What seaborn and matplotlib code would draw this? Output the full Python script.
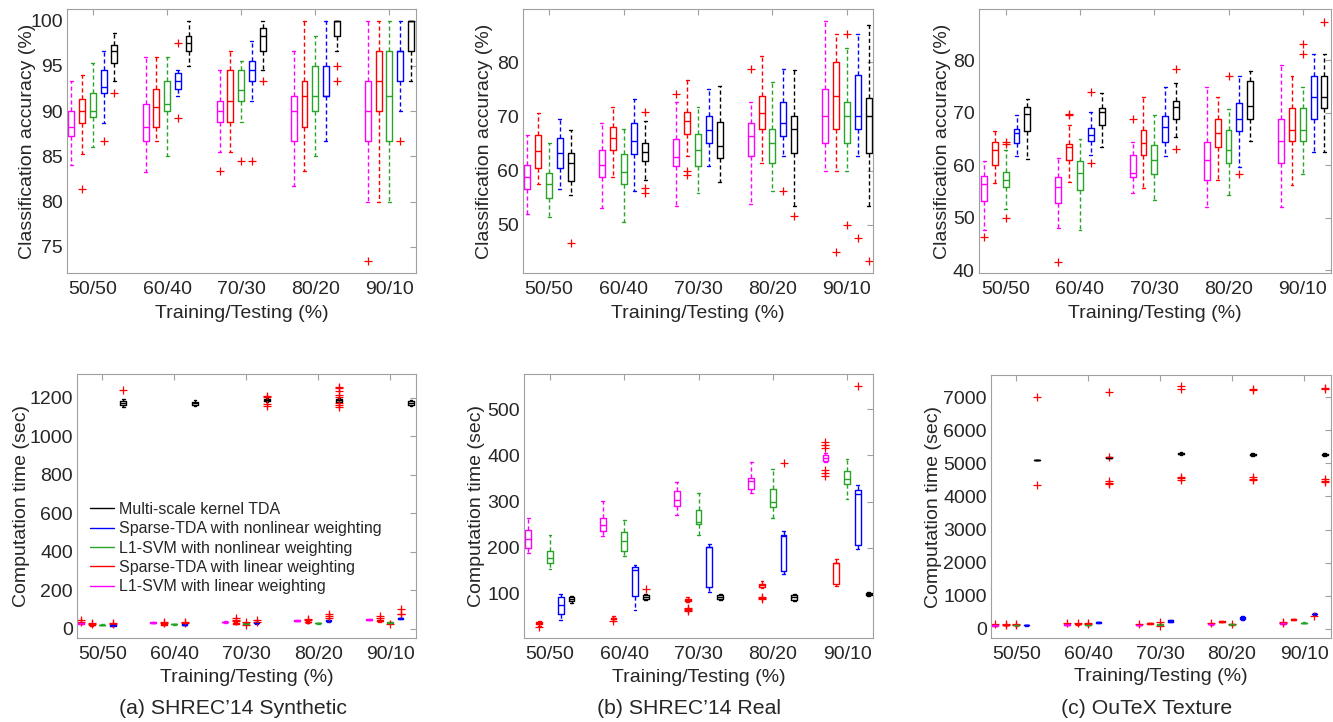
import matplotlib
matplotlib.use("Agg")
import matplotlib.pyplot as plt
import seaborn as sns
from matplotlib.lines import Line2D

sns.set_theme(style="white")
plt.rcParams['font.family'] = ['Liberation Sans', 'DejaVu Sans']

SPLITS = ["50/50", "60/40", "70/30", "80/20", "90/10"]
METHODS = ["L1-SVM with linear weighting", "Sparse-TDA with linear weighting",
           "L1-SVM with nonlinear weighting", "Sparse-TDA with nonlinear weighting",
           "Multi-scale kernel TDA"]
COLORS = ["#ff00ff", "#ff0000", "#28a428", "#0000ff", "#000000"]

# rows = splits, columns = methods (same order as METHODS)
# ---- (a) SHREC'14 Synthetic, accuracy
SYN_ACC_LO = [[84.0, 85.3, 86.0, 88.7, 93.3], [83.3, 86.7, 85.0, 91.65, 95.0], [85.5, 85.5, 88.85, 91.1, 94.6],
              [81.7, 83.35, 85.0, 86.7, 96.6], [80.0, 80.0, 80.0, 90.0, 93.3]]
SYN_ACC_Q1 = [[87.3, 88.7, 89.3, 92.0, 95.3], [86.7, 88.3, 90.0, 92.5, 96.6], [88.85, 88.85, 91.1, 93.3, 96.6],
              [86.7, 88.3, 90.0, 91.65, 98.3], [86.7, 90.0, 86.7, 93.3, 96.6]]
SYN_ACC_MED = [[88.3, 90.0, 90.0, 92.65, 96.6], [88.3, 90.5, 90.8, 93.3, 97.5], [90.0, 91.1, 92.3, 94.5, 98.3],
               [90.0, 91.65, 91.65, 91.65, 100.0], [90.0, 93.3, 91.65, 96.6, 100.0]]
SYN_ACC_Q3 = [[90.0, 91.3, 92.0, 94.6, 97.3], [90.8, 92.5, 93.3, 94.2, 98.3], [91.1, 94.5, 94.5, 95.5, 99.15],
              [91.65, 93.3, 95.0, 95.0, 100.0], [93.3, 96.6, 96.6, 96.6, 100.0]]
SYN_ACC_HI = [[93.3, 94.0, 95.3, 96.6, 98.6], [96.0, 96.0, 96.0, 94.6, 100.0], [94.5, 96.6, 95.5, 97.8, 100.0],
              [96.6, 100.0, 98.3, 100.0, 100.0], [100.0, 100.0, 100.0, 100.0, 100.0]]
SYN_ACC_OUT = [[[], [81.35], [], [86.7], [92.0]], [[], [], [], [97.5, 89.2], []],
               [[83.35], [], [84.5], [84.5], [93.3]], [[], [], [], [], [95.0, 93.3]],
               [[73.4], [], [], [86.7], []]]

# ---- (b) SHREC'14 Real, accuracy
REAL_ACC_LO = [[52.0, 57.6, 51.5, 56.6, 55.4], [53.1, 58.8, 50.6, 56.2, 58.3], [53.4, 62.6, 55.8, 60.9, 57.8],
               [53.9, 61.3, 56.3, 62.6, 53.4], [60.0, 60.0, 60.0, 62.6, 53.4]]
REAL_ACC_Q1 = [[56.6, 60.5, 55.0, 60.5, 58.1], [58.8, 63.7, 57.6, 63.1, 61.7], [60.9, 66.7, 60.9, 65.1, 62.3],
               [62.6, 67.6, 61.3, 66.3, 63.3], [65.1, 67.6, 65.1, 67.6, 63.3]]
REAL_ACC_MED = [[58.9, 63.6, 57.6, 63.3, 61.4], [61.0, 66.0, 59.7, 65.4, 63.4], [62.5, 69.2, 63.8, 67.5, 64.6],
                [66.3, 70.7, 65.1, 68.8, 67.6], [70.0, 73.8, 70.0, 70.0, 70.0]]
REAL_ACC_Q3 = [[61.0, 66.5, 59.5, 66.0, 63.3], [63.7, 68.1, 63.0, 68.8, 65.1], [65.8, 70.8, 66.7, 70.0, 68.9],
               [68.8, 73.8, 67.6, 72.6, 70.0], [75.0, 80.1, 72.6, 77.6, 73.3]]
REAL_ACC_HI = [[66.6, 70.6, 65.1, 69.6, 67.4], [68.8, 71.8, 67.6, 73.2, 69.2], [72.6, 76.7, 71.7, 75.0, 75.6],
               [72.6, 81.2, 76.4, 78.8, 78.5], [87.6, 85.1, 82.6, 85.1, 86.8]]
REAL_ACC_OUT = [[[], [], [], [], [46.6]], [[], [], [], [], [70.8, 56.8, 55.8]],
                [[74.2], [60.0, 59.2], [], [], []], [[78.8], [], [], [56.2], [51.7]],
                [[], [45.0], [85.1, 50.0], [47.5], [43.3]]]

# ---- (c) OuTeX Texture, accuracy
TEX_ACC_LO = [[47.7, 56.7, 51.6, 61.8, 61.3], [48.0, 56.9, 47.6, 62.0, 63.6], [54.8, 55.6, 53.5, 61.8, 65.5],
              [52.1, 57.3, 54.3, 59.7, 64.6], [52.1, 56.3, 58.3, 62.5, 62.5]]
TEX_ACC_Q1 = [[53.3, 60.0, 55.8, 64.2, 66.6], [52.8, 61.0, 55.3, 64.6, 67.7], [57.7, 61.9, 58.3, 64.5, 68.8],
              [57.3, 63.6, 60.4, 66.6, 68.8], [60.4, 64.6, 64.6, 68.8, 70.9]]
TEX_ACC_MED = [[56.4, 62.9, 57.2, 66.2, 69.8], [55.9, 63.6, 58.6, 65.8, 70.2], [58.6, 64.2, 61.1, 67.4, 71.2],
               [61.0, 66.2, 63.0, 68.8, 71.4], [64.6, 66.7, 66.7, 73.0, 73.0]]
TEX_ACC_Q3 = [[58.0, 64.5, 58.8, 67.0, 71.2], [57.8, 64.1, 60.9, 67.2, 70.9], [61.9, 66.7, 63.9, 69.4, 72.2],
              [64.5, 68.8, 66.7, 71.8, 76.0], [68.8, 70.9, 70.9, 77.0, 77.0]]
TEX_ACC_HI = [[60.8, 66.6, 62.9, 69.6, 72.6], [61.5, 67.7, 65.1, 70.2, 73.8], [64.5, 73.0, 69.6, 75.0, 75.7],
              [75.0, 73.0, 70.8, 77.0, 78.0], [79.2, 77.0, 75.0, 81.2, 81.2]]
TEX_ACC_OUT = [[[46.3], [], [64.5, 64.1, 50.0], [], []], [[41.65], [69.8, 69.6], [], [73.9, 60.4], []],
               [[68.8], [], [], [], [78.4, 63.2]], [[], [], [77.0], [58.3], []],
               [[], [], [83.2, 81.2], [], [87.4]]]

# ---- (a) SHREC'14 Synthetic, time (sec)
SYN_TIME_LO = [[26, 17, 20, 14, 1150], [30, 20, 23, 18, 1155], [33, 25, 24, 27, 1178],
               [39, 32, 28, 38, 1176], [44, 38, 30, 50, 1155]]
SYN_TIME_Q1 = [[28, 20, 21, 17, 1160], [32, 23, 24, 21, 1162], [34, 27, 26, 29, 1182],
               [41, 34, 29, 40, 1180], [46, 40, 31, 52, 1162]]
SYN_TIME_MED = [[30, 22, 22, 20, 1170], [33, 25, 25, 23, 1170], [36, 30, 28, 32, 1187],
                [43, 36, 30, 42, 1186], [48, 42, 33, 55, 1172]]
SYN_TIME_Q3 = [[32, 24, 23, 22, 1184], [35, 28, 26, 25, 1180], [38, 32, 29, 34, 1191],
               [45, 38, 31, 44, 1192], [50, 44, 34, 57, 1182]]
SYN_TIME_HI = [[34, 27, 24, 25, 1195], [36, 32, 27, 28, 1188], [40, 35, 31, 36, 1196],
               [47, 40, 32, 46, 1198], [52, 46, 36, 59, 1190]]
SYN_TIME_OUT = [[[38, 46], [26, 30], [], [27, 30], [1238]], [[], [32, 38], [], [33, 38], []],
                [[], [40, 48, 55], [20, 36], [38, 45], [1155, 1165, 1205, 1210]],
                [[], [45, 52], [], [58, 65, 78], [1150, 1160, 1170, 1205, 1215, 1235, 1250, 1258]],
                [[], [55, 65], [25], [75, 80, 105], []]]

# ---- (b) SHREC'14 Real, time (sec)
REAL_TIME_LO = [[189.5, 30, 153.4, 43.7, 81], [225.6, 42, 182.3, 65.4, 87], [271.8, 83, 227, 105, 86],
                [319.5, 112, 264.6, 143.3, 85], [384.5, 117.3, 306.5, 198.2, 96]]
REAL_TIME_Q1 = [[200.4, 35, 166.4, 56.7, 85], [236.5, 45, 193.9, 96.4, 89], [291.3, 85, 252.3, 116, 89],
                [326.7, 115, 289.2, 149.1, 88], [388.8, 121.7, 338.3, 205.4, 97]]
REAL_TIME_MED = [[220, 37, 178.7, 76.2, 90], [250, 47, 214.8, 152, 93], [303.6, 87, 255.2, 201.1, 94],
                 [344, 119, 298.5, 225.6, 94], [394.6, 166.4, 349.8, 316.6, 100]]
REAL_TIME_Q3 = [[238.6, 39, 193.9, 92.8, 94], [264.6, 49, 235, 157.8, 97], [323.8, 89, 282, 201.1, 97],
                [352, 122, 326.7, 227.8, 98], [400.4, 166.4, 365.7, 325.3, 103]]
REAL_TIME_HI = [[265, 41, 227.8, 100, 96], [300.7, 52, 260.3, 163.6, 100], [343.3, 93, 318, 207.6, 99],
                [386.6, 127, 370, 237.2, 100], [404.7, 175.1, 393.1, 335.4, 104]]
REAL_TIME_OUT = [[[], [29], [], [], []], [[], [42], [], [], [110.8]], [[], [63, 65, 67, 69], [], [], []],
                 [[], [90, 92, 94], [], [383], []],
                 [[427.8, 422, 416.2, 368.6, 362.8, 355.6], [], [], [550.5], []]]

# ---- (c) OuTeX Texture, time (sec)
TEX_TIME_LO = [[95, 110, 105, 105, 5090], [120, 135, 115, 185, 5145], [115, 160, 115, 215, 5255],
               [135, 200, 125, 275, 5220], [155, 275, 170, 425, 5220]]
TEX_TIME_Q1 = [[105, 115, 112, 112, 5095], [128, 140, 125, 192, 5155], [122, 165, 125, 225, 5270],
               [145, 210, 135, 290, 5240], [165, 285, 178, 440, 5240]]
TEX_TIME_MED = [[110, 120, 118, 118, 5100], [135, 145, 132, 198, 5165], [128, 170, 135, 240, 5290],
                [152, 220, 142, 320, 5260], [172, 292, 185, 450, 5260]]
TEX_TIME_Q3 = [[118, 125, 124, 124, 5105], [142, 150, 140, 205, 5175], [135, 175, 145, 265, 5310],
               [160, 228, 150, 370, 5290], [180, 298, 192, 462, 5290]]
TEX_TIME_HI = [[125, 130, 130, 130, 5110], [150, 155, 148, 212, 5185], [142, 180, 155, 280, 5330],
               [168, 235, 158, 390, 5310], [188, 305, 200, 470, 5310]]
TEX_TIME_OUT = [[[150], [125, 150], [135, 150], [], [7010, 4350]],
                [[195], [180], [165, 190], [], [7150, 5200, 4480, 4400, 4370]],
                [[150], [], [100, 200], [], [7330, 7230, 4600, 4560, 4500]],
                [[180], [], [150], [], [7240, 7220, 4600, 4540, 4490]],
                [[180, 210], [], [], [380], [7270, 7230, 4530, 4480, 4440]]]

CAPTIONS = ["(a) SHREC\u201914 Synthetic", "(b) SHREC\u201914 Real", "(c) OuTeX Texture"]

OFFSETS = [-0.29, -0.145, 0.0, 0.145, 0.29]
BOX_W = 0.08
GRAY = "#a0a0a0"
TXT = "#262626"


def draw_boxes(ax, lo, q1, med, q3, hi, out):
    for g in range(len(SPLITS)):
        for m in range(len(METHODS)):
            c = COLORS[m]
            stats = [dict(whislo=lo[g][m], q1=q1[g][m], med=med[g][m], q3=q3[g][m],
                          whishi=hi[g][m], fliers=out[g][m])]
            ax.bxp(stats, positions=[g + 1 + OFFSETS[m]], widths=BOX_W, capwidths=BOX_W * 0.5,
                   manage_ticks=False,
                   boxprops=dict(color=c, lw=1.0),
                   whiskerprops=dict(color=c, lw=1.0, ls=(0, (3, 2))),
                   capprops=dict(color=c, lw=1.0),
                   medianprops=dict(color=c, lw=1.0),
                   flierprops=dict(marker='+', markeredgecolor='red', markersize=6,
                                   markeredgewidth=0.9, ls='none'))


def style_axis(ax, ylim, yticks, ylabel, xlim, ylab_x, xlab_y):
    ax.set_xlim(*xlim)
    ax.set_ylim(*ylim)
    ax.set_yticks(yticks)
    ax.set_xticks(range(1, 6))
    ax.set_xticklabels(SPLITS)
    ax.tick_params(direction='in', top=True, right=True, length=4, width=0.8, color=GRAY,
                   labelcolor=TXT, labelsize=14)
    ax.tick_params(axis='x', pad=6)
    ax.tick_params(axis='y', pad=3)
    for s in ax.spines.values():
        s.set_color(GRAY)
        s.set_linewidth(0.8)
    ax.set_ylabel(ylabel, fontsize=14, color=TXT, va='center')
    ax.set_xlabel("Training/Testing (%)", fontsize=14, color=TXT, va='center')
    ax.yaxis.set_label_coords(ylab_x, 0.5)
    ax.xaxis.set_label_coords(0.5, xlab_y)


W, H = 1333, 722
fig = plt.figure(figsize=(W / 100, H / 100), dpi=100)


def px_axes(x0, y0, x1, y1):
    return fig.add_axes([x0 / W, 1 - y1 / H, (x1 - x0) / W, (y1 - y0) / H])


acc_lab = "Classification accuracy (%)"
time_lab = "Computation time (sec)"

ax = px_axes(67, 9, 416, 273)
draw_boxes(ax, SYN_ACC_LO, SYN_ACC_Q1, SYN_ACC_MED, SYN_ACC_Q3, SYN_ACC_HI, SYN_ACC_OUT)
style_axis(ax, (72.1, 101.3), [75, 80, 85, 90, 95, 100], acc_lab, (0.65, 5.36), -0.112, -0.152)

ax = px_axes(523, 9, 873, 273)
draw_boxes(ax, REAL_ACC_LO, REAL_ACC_Q1, REAL_ACC_MED, REAL_ACC_Q3, REAL_ACC_HI, REAL_ACC_OUT)
style_axis(ax, (41.1, 89.8), [50, 60, 70, 80], acc_lab, (0.65, 5.35), -0.109, -0.152)

ax = px_axes(979, 9, 1331, 273)
draw_boxes(ax, TEX_ACC_LO, TEX_ACC_Q1, TEX_ACC_MED, TEX_ACC_Q3, TEX_ACC_HI, TEX_ACC_OUT)
style_axis(ax, (39.5, 89.8), [40, 50, 60, 70, 80], acc_lab, (0.64, 5.38), -0.105, -0.152)

ax = px_axes(77, 374, 416, 638)
draw_boxes(ax, SYN_TIME_LO, SYN_TIME_Q1, SYN_TIME_MED, SYN_TIME_Q3, SYN_TIME_HI, SYN_TIME_OUT)
style_axis(ax, (-47, 1323), range(0, 1201, 200), time_lab, (0.65, 5.36), -0.165, -0.148)
handles = [Line2D([], [], color=COLORS[m], lw=1.0) for m in range(4, -1, -1)]
ax.legend(handles, METHODS[::-1], loc='upper left', bbox_to_anchor=(0.038, 0.515),
          frameon=False, fontsize=11.5, handlelength=1.5, handletextpad=0.3,
          labelspacing=0.27, borderpad=0, borderaxespad=0, labelcolor=TXT)

ax = px_axes(524, 374, 873, 638)
draw_boxes(ax, REAL_TIME_LO, REAL_TIME_Q1, REAL_TIME_MED, REAL_TIME_Q3, REAL_TIME_HI, REAL_TIME_OUT)
style_axis(ax, (4.7, 576), [100, 200, 300, 400, 500], time_lab, (0.65, 5.35), -0.1375, -0.148)

ax = px_axes(991, 375, 1331, 638)
draw_boxes(ax, TEX_TIME_LO, TEX_TIME_Q1, TEX_TIME_MED, TEX_TIME_Q3, TEX_TIME_HI, TEX_TIME_OUT)
style_axis(ax, (-272, 7664), range(0, 7001, 1000), time_lab, (0.65, 5.375), -0.17, -0.148)

for x, cap in zip([233, 689, 1147], CAPTIONS):
    fig.text(x / W, 1 - 708 / H, cap, ha='center', va='center', fontsize=15.3, color=TXT)

fig.savefig("out.png", dpi=100)
